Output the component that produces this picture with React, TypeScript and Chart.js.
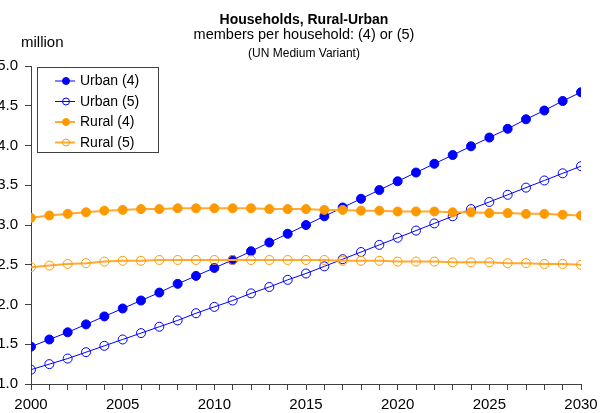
import { useEffect, useRef } from 'react';
import { Chart, registerables } from 'chart.js';

Chart.register(...registerables);

const FONT = '"Liberation Sans", Arial, Helvetica, sans-serif';

const years = [
  2000, 2001, 2002, 2003, 2004, 2005, 2006, 2007, 2008, 2009,
  2010, 2011, 2012, 2013, 2014, 2015, 2016, 2017, 2018, 2019,
  2020, 2021, 2022, 2023, 2024, 2025, 2026, 2027, 2028, 2029, 2030,
];

const urban4 = [
  1.47, 1.56, 1.65, 1.75, 1.85, 1.95, 2.05, 2.15, 2.26, 2.36,
  2.46, 2.56, 2.67, 2.78, 2.89, 3.0, 3.11, 3.22, 3.33, 3.44,
  3.55, 3.66, 3.77, 3.88, 3.99, 4.1, 4.21, 4.33, 4.44, 4.56, 4.67,
];

const urban5 = [
  1.18, 1.25, 1.32, 1.4, 1.48, 1.56, 1.64, 1.72, 1.8, 1.89,
  1.97, 2.05, 2.14, 2.22, 2.31, 2.39, 2.48, 2.57, 2.66, 2.75,
  2.84, 2.93, 3.02, 3.11, 3.2, 3.29, 3.38, 3.47, 3.56, 3.65, 3.74,
];

const rural4 = [
  3.09, 3.12, 3.14, 3.16, 3.18, 3.19, 3.2, 3.2, 3.21, 3.21,
  3.21, 3.21, 3.21, 3.2, 3.2, 3.2, 3.19, 3.19, 3.18, 3.18,
  3.17, 3.17, 3.17, 3.16, 3.16, 3.15, 3.15, 3.14, 3.14, 3.13, 3.12,
];

const rural5 = [
  2.47, 2.49, 2.51, 2.52, 2.54, 2.55, 2.55, 2.56, 2.56, 2.56,
  2.56, 2.56, 2.56, 2.56, 2.56, 2.56, 2.56, 2.55, 2.55, 2.55,
  2.54, 2.54, 2.54, 2.53, 2.53, 2.53, 2.52, 2.52, 2.51, 2.51, 2.5,
];

const seriesNames = ['Urban (4)', 'Urban (5)', 'Rural (4)', 'Rural (5)'];
const titleText = 'Households, Rural-Urban';
const subtitleText = 'members per household: (4) or (5)';
const noteText = '(UN Medium Variant)';
const unitText = 'million';

const BLUE = '#0000FF';
const ORANGE = '#FF9900';
const ORANGE_LINE = '#FFAA33';
const AXIS = '#404040';

const CANVAS_W = 640;
const CANVAS_H = 413;
const SHIFT = 20;

export default function App() {
  const ref = useRef<HTMLCanvasElement | null>(null);

  useEffect(() => {
    if (!ref.current) return;

    const toXY = (arr: number[]) => arr.map((v, i) => ({ x: years[i], y: v }));

    const styles = [
      { line: BLUE, point: BLUE, fill: BLUE, lw: 1 },
      { line: BLUE, point: BLUE, fill: 'rgba(0,0,0,0)', lw: 1 },
      { line: ORANGE_LINE, point: ORANGE, fill: ORANGE, lw: 2 },
      { line: ORANGE_LINE, point: ORANGE, fill: 'rgba(0,0,0,0)', lw: 2 },
    ];
    const dataArrays = [urban4, urban5, rural4, rural5];

    const datasets = dataArrays.map((arr, i) => ({
      label: seriesNames[i],
      data: toXY(arr),
      borderColor: styles[i].line,
      borderWidth: styles[i].lw,
      pointBorderColor: styles[i].point,
      pointBackgroundColor: styles[i].fill,
      pointBorderWidth: 1,
      pointRadius: 4.5,
      pointHoverRadius: 4.5,
      tension: 0,
      fill: false,
      order: 4 - i,
    }));

    const decor = {
      id: 'decor',
      afterDraw(chart: any) {
        const ctx = chart.ctx as CanvasRenderingContext2D;
        const area = chart.chartArea;
        ctx.save();
        const cx = 304 + SHIFT;
        ctx.fillStyle = '#000';
        ctx.textAlign = 'center';
        ctx.textBaseline = 'alphabetic';
        ctx.font = `bold 14px ${FONT}`;
        ctx.fillText(titleText, cx, 24);
        ctx.font = `14.5px ${FONT}`;
        ctx.fillText(subtitleText, cx, 39);
        ctx.font = `12px ${FONT}`;
        ctx.fillText(noteText, cx, 57);
        ctx.textAlign = 'left';
        ctx.font = `15px ${FONT}`;
        ctx.fillText(unitText, 21 + SHIFT, 47);

        const bx = area.left + 6;
        const by = area.top + 1;
        const bw = 121;
        const bh = 85;
        ctx.fillStyle = '#fff';
        ctx.fillRect(bx, by, bw, bh);
        ctx.strokeStyle = AXIS;
        ctx.lineWidth = 1;
        ctx.strokeRect(bx + 0.5, by + 0.5, bw, bh);
        const rows = [14, 34.5, 55, 75.5];
        chart.data.datasets.forEach((ds: any, i: number) => {
          const y = by + rows[i];
          ctx.beginPath();
          ctx.strokeStyle = ds.borderColor;
          ctx.lineWidth = ds.borderWidth;
          ctx.moveTo(bx + 18, y);
          ctx.lineTo(bx + 38, y);
          ctx.stroke();
          ctx.beginPath();
          ctx.arc(bx + 29, y, 3.5, 0, Math.PI * 2);
          ctx.fillStyle = ds.pointBackgroundColor;
          ctx.fill();
          ctx.lineWidth = 1;
          ctx.strokeStyle = ds.pointBorderColor;
          ctx.stroke();
          ctx.fillStyle = '#000';
          ctx.font = `14px ${FONT}`;
          ctx.textAlign = 'left';
          ctx.textBaseline = 'middle';
          ctx.fillText(ds.label, bx + 43, y + 0.5);
        });
        ctx.restore();
      },
    };

    const chart = new Chart(ref.current, {
      type: 'line',
      data: { datasets },
      options: {
        responsive: false,
        animation: false,
        layout: { padding: { top: 66, right: CANVAS_W - 601, left: 0, bottom: 0 } },
        plugins: {
          legend: { display: false },
          title: { display: false },
          tooltip: { enabled: false },
        },
        scales: {
          x: {
            type: 'linear',
            min: 2000,
            max: 2030,
            afterFit: (s: any) => { s.height = 29; },
            ticks: {
              stepSize: 1,
              autoSkip: false,
              maxRotation: 0,
              minRotation: 0,
              padding: 6,
              color: '#000',
              font: { family: FONT, size: 15 },
              callback: (v: any) => (Number(v) % 5 === 0 ? String(v) : ''),
            },
            grid: {
              display: true,
              drawOnChartArea: false,
              drawTicks: true,
              tickLength: 6,
              color: AXIS,
            },
            border: { display: true, color: AXIS, width: 1 },
          },
          y: {
            type: 'linear',
            min: 1,
            max: 5,
            afterFit: (s: any) => { s.width = 51; },
            ticks: {
              stepSize: 0.5,
              padding: 7,
              color: '#000',
              font: { family: FONT, size: 15 },
              callback: (v: any) => Number(v).toFixed(1),
            },
            grid: {
              display: true,
              drawOnChartArea: false,
              drawTicks: true,
              tickLength: 6,
              color: AXIS,
            },
            border: { display: true, color: AXIS, width: 1 },
          },
        },
      },
      plugins: [decor],
    });

    return () => chart.destroy();
  }, []);

  return (
    <div
      style={{
        position: 'fixed',
        left: 0,
        top: 0,
        width: 600,
        height: 413,
        overflow: 'hidden',
        background: '#fff',
      }}
    >
      <canvas
        ref={ref}
        width={CANVAS_W}
        height={CANVAS_H}
        style={{ position: 'absolute', left: -SHIFT, top: 0, width: CANVAS_W, height: CANVAS_H }}
      />
    </div>
  );
}
